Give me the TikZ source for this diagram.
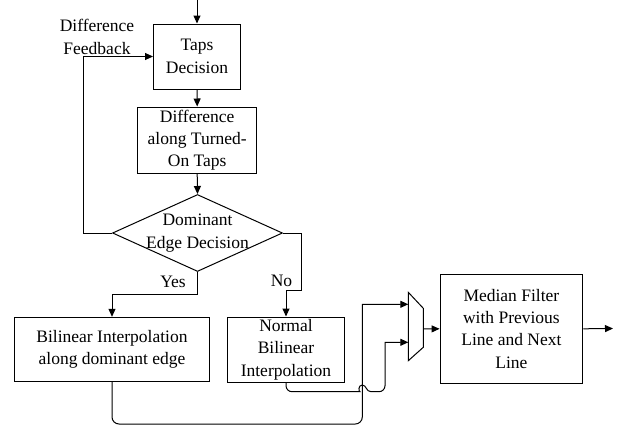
\documentclass[tikz,border=0pt]{standalone}
\usepackage{fontspec}
\setmainfont{Liberation Serif}
\usetikzlibrary{shapes.geometric,arrows.meta}
\begin{document}
\begin{tikzpicture}[x=1pt,y=-1pt,
  blk/.style={draw, line width=1pt, inner sep=0pt, align=center},
  txt/.style={align=center},
  ln/.style={line width=1pt},
  arr/.style={ln, -{Triangle[length=8pt,width=7pt]}}]
\fontsize{17.5}{22.3}\selectfont\rmfamily
\useasboundingbox (0,0) rectangle (622,429);
% blocks
\node[blk, minimum width=87pt, minimum height=65pt] (taps) at (197,56.5) {Taps\\Decision};
\node[blk, minimum width=118.5pt, minimum height=66pt] (diff) at (197.2,140) {Difference\\along Turned-\\On Taps};
\node[draw, ln, diamond, minimum width=170pt, minimum height=77pt, inner sep=0pt] (dec) at (197.5,233) {};
\node[txt] (dectxt) at (197.5,233) {Dominant\\Edge Decision};
\node[blk, minimum width=194.6pt, minimum height=64.4pt] (bil) at (112,349.5) {Bilinear Interpolation\\along dominant edge};
\node[blk, minimum width=117.6pt, minimum height=65pt] (norm) at (286,349.5) {Normal\\Bilinear\\Interpolation};
\node[blk, minimum width=142.7pt, minimum height=109pt] (med) at (511.4,328.8) {Median Filter\\with Previous\\Line and Next\\Line};
% labels
\node[txt] (fb) at (97,37) {Difference\\Feedback};
\node[txt] (yes) at (173,282) {Yes};
\node[txt] (no) at (281.5,281) {No};
% mux
\draw[ln] (408.3,292.3) -- (423.3,308.3) -- (423.3,347.3) -- (408.3,360.7) -- cycle;
\coordinate (m1) at (408.3,304.3);
\coordinate (m2) at (408.3,342.3);
\coordinate (mo) at (423.3,329);
\coordinate (in) at (197,0);
\coordinate (out) at (613,328.5);
% connectors
\draw[arr] (in) -- (taps.north);
\draw[arr] (taps.south) -- (diff.north);
\draw[arr] (diff.south) -- (dec.north);
\draw[arr] (dec.west) -- (83,233) -- (83,56.5) -- (taps.west);
\draw[arr] (dec.south) -- (197.5,294.3) -| (bil.north);
\draw[arr] (dec.east) -- (301.7,233) -- (301.7,290.7) -- (286,290.7) -- (norm.north);
\draw[arr] (bil.south) [rounded corners=7pt] -- (112,424) -- (362.3,424) -- (362.3,340) [sharp corners] -- (362.3,304.3) -- (m1);
\draw[arr] (norm.south) [rounded corners=6pt] -- (286,391.7) -- (354,391.7) [sharp corners]
  .. controls (358.5,391.7) and (358,385) .. (362.3,385)
  .. controls (366.5,385) and (366,391.7) .. (371,391.7)
  [rounded corners=6pt] -- (385,391.7) -- (385,360) [sharp corners] -- (385,342.3) -- (m2);
\draw[arr] (mo) -- (med.west);
\draw[arr] (med.east) -- (out);
\end{tikzpicture}
\end{document}
